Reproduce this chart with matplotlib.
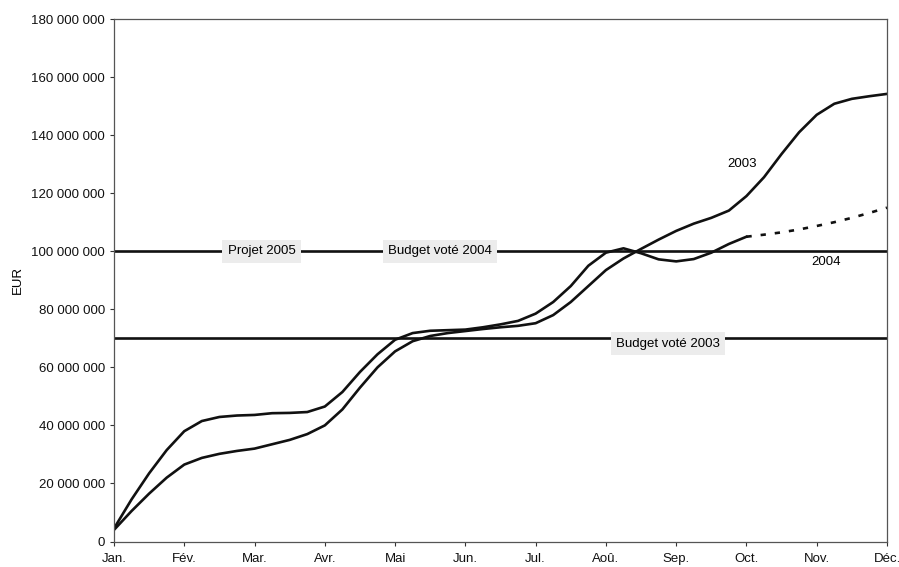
import matplotlib
matplotlib.use("Agg")
import matplotlib.pyplot as plt
from matplotlib.ticker import FuncFormatter

plt.rcParams['font.family'] = ['Liberation Sans', 'DejaVu Sans']

months = ['Jan.', 'Fév.', 'Mar.', 'Avr.', 'Mai', 'Jun.', 'Jul.',
          'Aoû.', 'Sep.', 'Oct.', 'Nov.', 'Déc.']

# cumulative spending, sampled every quarter month (in millions EUR)
steps = [i / 4 for i in range(45)]
spend_2003 = [4.0, 10.5, 16.5, 22.0, 26.5, 28.8, 30.2, 31.2, 32.0, 33.5,
              35.0, 37.0, 40.0, 45.5, 53.0, 60.0, 65.5, 69.0, 70.8, 71.8,
              72.5, 73.2, 73.8, 74.3, 75.2, 78.0, 82.5, 88.0, 93.5, 97.5,
              100.8, 104.0, 107.0, 109.5, 111.5, 114.0, 119.0, 125.5, 133.5,
              141.0, 147.0, 150.8, 152.5, 153.4, 154.2]
steps_2004 = steps[:37]
spend_2004 = [4.5, 14.5, 23.5, 31.5, 38.0, 41.5, 42.9, 43.4, 43.6, 44.2,
              44.3, 44.6, 46.5, 51.5, 58.4, 64.5, 69.5, 71.8, 72.6, 72.8,
              73.0, 73.8, 74.8, 76.0, 78.5, 82.5, 88.0, 95.0, 99.5, 101.0,
              99.3, 97.2, 96.5, 97.3, 99.5, 102.5, 105.0]
# projection for the rest of 2004
steps_proj = steps[36:]
proj_2004 = [105.0, 105.7, 106.5, 107.5, 108.7, 110.0, 111.5, 113.2, 115.0]

budget_2003 = 70.0
budget_2004 = 100.0

fig = plt.figure(figsize=(8.99, 5.67), dpi=100)
ax = fig.add_axes([114 / 899, 1 - 541.5 / 567, 773 / 899, 522.5 / 567])

M = 1e6
line_kw = dict(color='#111111', lw=1.9, solid_joinstyle='round')
ax.plot(steps, [v * M for v in spend_2003], **line_kw)
ax.plot(steps_2004, [v * M for v in spend_2004], **line_kw)
ax.plot(steps_proj, [v * M for v in proj_2004], color='#111111', lw=1.9,
        linestyle=(0, (2, 3.4)))

ax.axhline(budget_2004 * M, color='#111111', lw=1.9, zorder=1)
ax.axhline(budget_2003 * M, color='#111111', lw=1.9, zorder=1)

box = dict(boxstyle='square,pad=0.4', facecolor='#ececec', edgecolor='none')
fs = 9.5
ax.text(2.1, budget_2004 * M, 'Projet 2005', ha='center', va='center',
        fontsize=fs, bbox=box, zorder=3)
ax.text(4.64, budget_2004 * M, 'Budget voté 2004', ha='center', va='center',
        fontsize=fs, bbox=box, zorder=3)
ax.text(7.88, budget_2003 * M - 1.8 * M, 'Budget voté 2003', ha='center',
        va='center', fontsize=fs, bbox=box, zorder=3)

ax.text(8.94, 130.0 * M, '2003', ha='center', va='center', fontsize=fs)
ax.text(10.13, 96.3 * M, '2004', ha='center', va='center', fontsize=fs)

ax.set_xlim(0, 11)
ax.set_ylim(0, 180 * M)
ax.set_xticks(range(12))
ax.set_xticklabels(months)
ax.set_yticks([i * 20 * M for i in range(10)])
ax.yaxis.set_major_formatter(
    FuncFormatter(lambda v, p: f'{int(round(v)):,}'.replace(',', ' ')))
ax.tick_params(axis='both', labelsize=fs, length=3, width=0.8,
               colors='#333333', labelcolor='#111111')
ax.tick_params(axis='x', pad=5)
ax.set_ylabel('EUR', fontsize=fs, labelpad=5)

for spine in ax.spines.values():
    spine.set_color('#555555')
    spine.set_linewidth(0.9)

fig.savefig('out.png', dpi=100, facecolor='white')
